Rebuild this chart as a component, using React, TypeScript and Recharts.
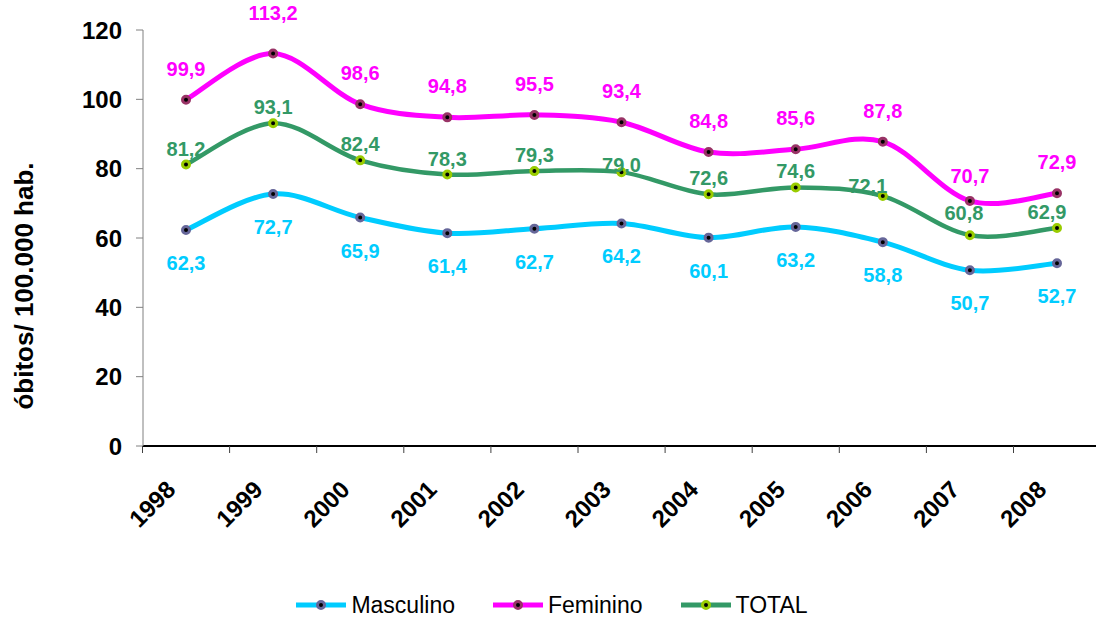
import { LineChart, Line, XAxis, YAxis, Legend, LabelList } from "recharts";

const years = ["1998", "1999", "2000", "2001", "2002", "2003", "2004", "2005", "2006", "2007", "2008"];
const masculino = [62.3, 72.7, 65.9, 61.4, 62.7, 64.2, 60.1, 63.2, 58.8, 50.7, 52.7];
const feminino = [99.9, 113.2, 98.6, 94.8, 95.5, 93.4, 84.8, 85.6, 87.8, 70.7, 72.9];
const total = [81.2, 93.1, 82.4, 78.3, 79.3, 79.0, 72.6, 74.6, 72.1, 60.8, 62.9];
const yTicks = [0, 20, 40, 60, 80, 100, 120];

const rows = years.map((year, i) => ({
  year,
  masculino: masculino[i],
  feminino: feminino[i],
  total: total[i],
}));

const FONT = '"Liberation Sans", Arial, sans-serif';
const HALF_BAND = 43.5;

const series = [
  { key: "masculino", name: "Masculino", color: "#00CCFF", ring: "#666699", width: 5, dy: 40 },
  { key: "feminino", name: "Feminino", color: "#FF00FF", ring: "#993366", width: 5, dy: -24 },
  { key: "total", name: "TOTAL", color: "#339966", ring: "#99CC00", width: 4.5, dy: -9 },
];

// hand-moved labels, like in the original spreadsheet
const nudges: Record<string, Record<number, [number, number]>> = {
  masculino: {},
  feminino: { 1: [0, -10], 9: [0, 6] },
  total: { 5: [0, 9], 8: [-15, 6], 9: [-6, -6], 10: [-10, 0] },
};

// Excel-like smoothed line (Catmull-Rom through the points)
const excelSmooth = (ctx: any) => {
  let pts: number[][] = [];
  return {
    areaStart() {},
    areaEnd() {},
    lineStart() {
      pts = [];
    },
    point(x: number, y: number) {
      pts.push([+x, +y]);
    },
    lineEnd() {
      if (!pts.length) return;
      ctx.moveTo(pts[0][0], pts[0][1]);
      for (let i = 0; i < pts.length - 1; i++) {
        const p0 = pts[i - 1] || pts[i];
        const p1 = pts[i];
        const p2 = pts[i + 1];
        const p3 = pts[i + 2] || p2;
        ctx.bezierCurveTo(
          p1[0] + (p2[0] - p0[0]) / 6,
          p1[1] + (p2[1] - p0[1]) / 6,
          p2[0] - (p3[0] - p1[0]) / 6,
          p2[1] - (p3[1] - p1[1]) / 6,
          p2[0],
          p2[1]
        );
      }
    },
  };
};

const fmt = (v: number) => v.toFixed(1).replace(".", ",");

const XTick = (props: any) => {
  const { x, y, payload, index } = props;
  return (
    <g>
      <line x1={x - HALF_BAND} x2={x - HALF_BAND} y1={y} y2={y + 7} stroke="#404040" />
      {index === years.length - 1 && (
        <line x1={x + HALF_BAND} x2={x + HALF_BAND} y1={y} y2={y + 7} stroke="#404040" />
      )}
      <text
        transform={`translate(${x - 9},${y + 45}) rotate(-45)`}
        textAnchor="end"
        fontSize={24}
        fontWeight="bold"
        fill="#000"
      >
        {payload.value}
      </text>
    </g>
  );
};

const makeLabel = (s: (typeof series)[number]) => (props: any) => {
  const { x, y, value, index } = props;
  const [ndx, ndy] = nudges[s.key][index] || [0, 0];
  return (
    <text
      x={x + ndx}
      y={y + s.dy + ndy}
      textAnchor="middle"
      fontSize={20}
      fontWeight="bold"
      fill={s.color}
    >
      {fmt(value)}
    </text>
  );
};

const renderLegend = () => (
  <div
    style={{
      display: "flex",
      justifyContent: "center",
      alignItems: "center",
      gap: 38,
      height: 30,
      paddingTop: 6,
      paddingLeft: 8,
      boxSizing: "border-box",
      fontSize: 23,
      fontFamily: FONT,
      color: "#000",
    }}
  >
    {series.map((s) => (
      <div key={s.key} style={{ display: "flex", alignItems: "center" }}>
        <svg width={50} height={12}>
          <line x1={0} x2={50} y1={6} y2={6} stroke={s.color} strokeWidth={5} strokeLinecap="round" />
          <circle cx={25} cy={6} r={3.5} fill="#000" stroke={s.ring} strokeWidth={3} />
        </svg>
        <span style={{ marginLeft: 5 }}>{s.name}</span>
      </div>
    ))}
  </div>
);

export default function App() {
  return (
    <div
      style={{
        position: "absolute",
        left: 0,
        top: 0,
        width: 1096,
        height: 617,
        background: "#fff",
        fontFamily: FONT,
      }}
    >
      <LineChart width={1096} height={617} data={rows} margin={{ top: 30, right: 0, bottom: 0, left: 0 }}>
        <XAxis
          dataKey="year"
          padding={{ left: 43, right: 39 }}
          axisLine={{ stroke: "#000", strokeWidth: 2 }}
          tickLine={false}
          tickSize={0}
          tickMargin={0}
          interval={0}
          height={141}
          tick={<XTick />}
        />
        <YAxis
          width={143}
          domain={[0, 120]}
          ticks={yTicks}
          interval={0}
          axisLine={{ stroke: "#808080" }}
          tickLine={{ stroke: "#808080" }}
          tickSize={7}
          tickMargin={14}
          tick={{ fontSize: 24, fontWeight: "bold", fill: "#000" }}
          label={{
            content: () => (
              <text
                transform="translate(33,286) rotate(-90)"
                textAnchor="middle"
                fontSize={26}
                fontWeight="bold"
                fill="#000"
              >
                óbitos/ 100.000 hab.
              </text>
            ),
          }}
        />
        <Legend verticalAlign="bottom" height={30} content={renderLegend} />
        {series.map((s) => (
          <Line
            key={s.key}
            dataKey={s.key}
            name={s.name}
            type={excelSmooth as any}
            stroke={s.color}
            strokeWidth={s.width}
            dot={{ r: 3.5, fill: "#000", stroke: s.ring, strokeWidth: 3 }}
            activeDot={false}
            isAnimationActive={false}
          >
            <LabelList dataKey={s.key} content={makeLabel(s)} />
          </Line>
        ))}
      </LineChart>
    </div>
  );
}
